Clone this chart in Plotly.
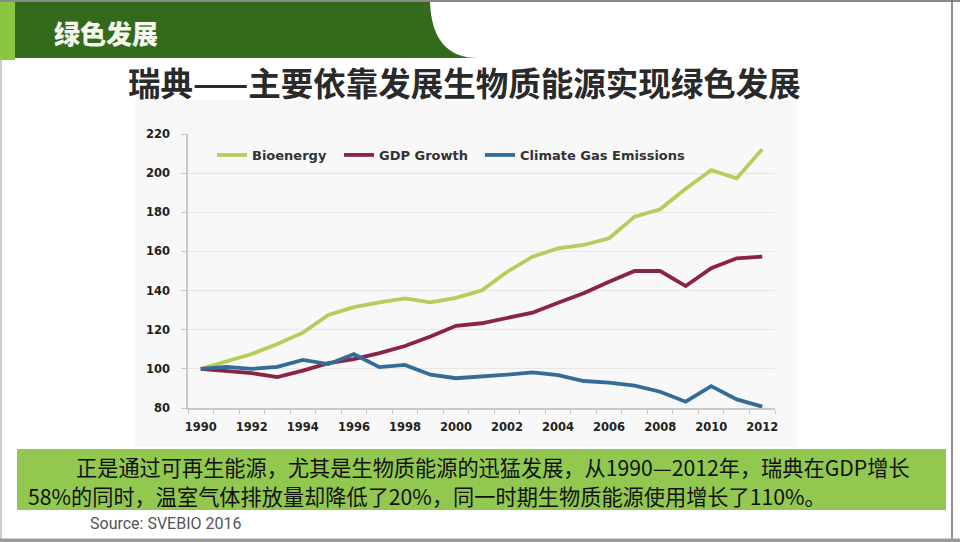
import plotly.graph_objects as go

W, H = 960, 542

years = list(range(1990, 2013))
bioenergy = [100, 103.7, 107.6, 112.7, 118.5, 127.5, 131.5, 134, 136, 134, 136.3, 140,
             149.5, 157.3, 161.6, 163.3, 166.7, 177.8, 181.5, 192, 201.5, 197.4, 212.2]
gdp_growth = [100, 99.1, 97.8, 95.8, 99.1, 102.9, 105, 108, 111.7, 116.5, 122, 123.3,
              126, 128.7, 133.8, 138.6, 144.5, 150, 150, 142.3, 151.4, 156.5, 157.3]
emissions = [100, 101, 100, 101, 104.6, 102.4, 107.5, 100.9, 102, 97, 95.2, 96,
             97, 98.2, 96.8, 93.8, 93, 91.4, 88.3, 83.2, 91.2, 84.4, 80.7]

series_names = ["Bioenergy", "GDP Growth", "Climate Gas Emissions"]
series_colors = ["#b5ce5b", "#8a2346", "#336c97"]
legend_ids = ["legend", "legend2", "legend3"]
legend_x_px = [212, 339, 480]
y_ticks = [80, 100, 120, 140, 160, 180, 200, 220]
x_tick_years = [y for y in years if y % 2 == 0]

header_text = "绿色发展"
title_text = "瑞典——主要依靠发展生物质能源实现绿色发展"
note_line1 = "正是通过可再生能源，尤其是生物质能源的迅猛发展，从1990—2012年，瑞典在GDP增长"
note_line2 = "58%的同时，温室气体排放量却降低了20%，同一时期生物质能源使用增长了110%。"
source_text = "Source: SVEBIO 2016"


def px(x):
    return x / W


def py(y):
    return 1 - y / H


fig = go.Figure()
for name, vals, col, lid in zip(series_names, [bioenergy, gdp_growth, emissions],
                                series_colors, legend_ids):
    fig.add_trace(go.Scatter(x=years, y=vals, mode="lines", name=name, legend=lid,
                             line=dict(color=col, width=3.8)))

shapes = [
    dict(type="rect", xref="paper", yref="paper", x0=px(135), x1=px(797), y0=py(447), y1=py(100),
         fillcolor="#f8f8f8", line=dict(width=0), layer="below"),
    dict(type="rect", xref="paper", yref="paper", x0=px(0), x1=px(15), y0=py(60), y1=py(2),
         fillcolor="#8cc63f", line=dict(width=0), layer="below"),
    dict(type="path", xref="paper", yref="paper",
         path=f"M {px(15)},{py(2)} L {px(430)},{py(2)} Q {px(432)},{py(58)} {px(478)},{py(58)} L {px(15)},{py(58)} Z",
         fillcolor="#346a1c", line=dict(width=0), layer="below"),
    dict(type="rect", xref="paper", yref="paper", x0=px(17), x1=px(946), y0=py(510), y1=py(449),
         fillcolor="#92c850", line=dict(width=0), layer="below"),
    dict(type="line", xref="paper", yref="paper", x0=0, x1=1, y0=py(1), y1=py(1),
         line=dict(color="#8a8a8a", width=2)),
    dict(type="line", xref="paper", yref="paper", x0=px(1), x1=px(1), y0=py(540), y1=py(60),
         line=dict(color="#9a9a9a", width=1)),
    dict(type="line", xref="paper", yref="paper", x0=px(952), x1=px(952), y0=py(540), y1=py(0),
         line=dict(color="#6a6a6a", width=1.5)),
    dict(type="rect", xref="paper", yref="paper", x0=0, x1=1, y0=0, y1=py(538.5),
         fillcolor="#9a9a9a", line=dict(width=0)),
]

annotations = [
    dict(text=header_text, xref="paper", yref="paper", x=px(52), y=py(33), xanchor="left",
         yanchor="middle", showarrow=False,
         font=dict(family="Noto Sans CJK SC", size=26, color="#f4f8ee", weight=800)),
    dict(text=title_text, xref="paper", yref="paper", x=px(464), y=py(82), xanchor="center",
         yanchor="middle", showarrow=False,
         font=dict(family="Noto Sans CJK SC", size=32.5, color="#2a2a2a", weight=700)),
    dict(text=note_line1, xref="paper", yref="paper", x=px(74), y=py(466), xanchor="left",
         yanchor="middle", showarrow=False,
         font=dict(family="Noto Sans CJK SC", size=21.2, color="#111111")),
    dict(text=note_line2, xref="paper", yref="paper", x=px(26), y=py(495), xanchor="left",
         yanchor="middle", showarrow=False,
         font=dict(family="Noto Sans CJK SC", size=21.2, color="#111111")),
    dict(text=source_text, xref="paper", yref="paper", x=px(88), y=py(523), xanchor="left",
         yanchor="middle", showarrow=False,
         font=dict(family="Liberation Sans Narrow, Roboto, sans-serif", size=16, color="#555555")),
]

tick_font = dict(family="DejaVu Sans", size=11.5, color="#222222", weight=700)
legend_font = dict(family="DejaVu Sans", size=13, color="#333333", weight=700)

layout_legends = {}
for lid, lx in zip(legend_ids, legend_x_px):
    layout_legends[lid] = dict(orientation="h", x=px(lx), y=py(155), xanchor="left",
                               yanchor="middle", bgcolor="rgba(0,0,0,0)",
                               font=legend_font, itemwidth=30)

fig.update_layout(
    width=W, height=H, autosize=False,
    margin=dict(l=0, r=0, t=0, b=0, pad=0, autoexpand=False),
    paper_bgcolor="white", plot_bgcolor="rgba(0,0,0,0)",
    shapes=shapes, annotations=annotations,
    showlegend=True,
    xaxis=dict(domain=[px(188), px(775)], range=[1989.5, 2012.5], automargin=False,
               tickmode="array", tickvals=x_tick_years, ticktext=[str(y) for y in x_tick_years],
               ticks="", showgrid=False, zeroline=False,
               showline=True, linecolor="#c8c8c8", linewidth=1.5,
               tickfont=tick_font, ticklabelstandoff=7,
               minor=dict(tickmode="array", tickvals=[y - 0.5 for y in years] + [years[-1] + 0.5],
                          ticks="outside", ticklen=4, tickcolor="#c8c8c8", showgrid=False)),
    yaxis=dict(domain=[py(408), py(134)], range=[80, 220], automargin=False,
               tickmode="array", tickvals=y_ticks,
               ticks="outside", ticklen=5, tickcolor="#c8c8c8",
               showgrid=True, gridcolor="#e6e6e6", gridwidth=1, zeroline=False,
               showline=True, linecolor="#c8c8c8", linewidth=1.5,
               tickfont=tick_font, ticklabelstandoff=9),
    **layout_legends,
)

fig.write_html("out.html", config={"displayModeBar": False},
               post_script="document.body.style.margin='0px';document.body.style.overflow='hidden';")
